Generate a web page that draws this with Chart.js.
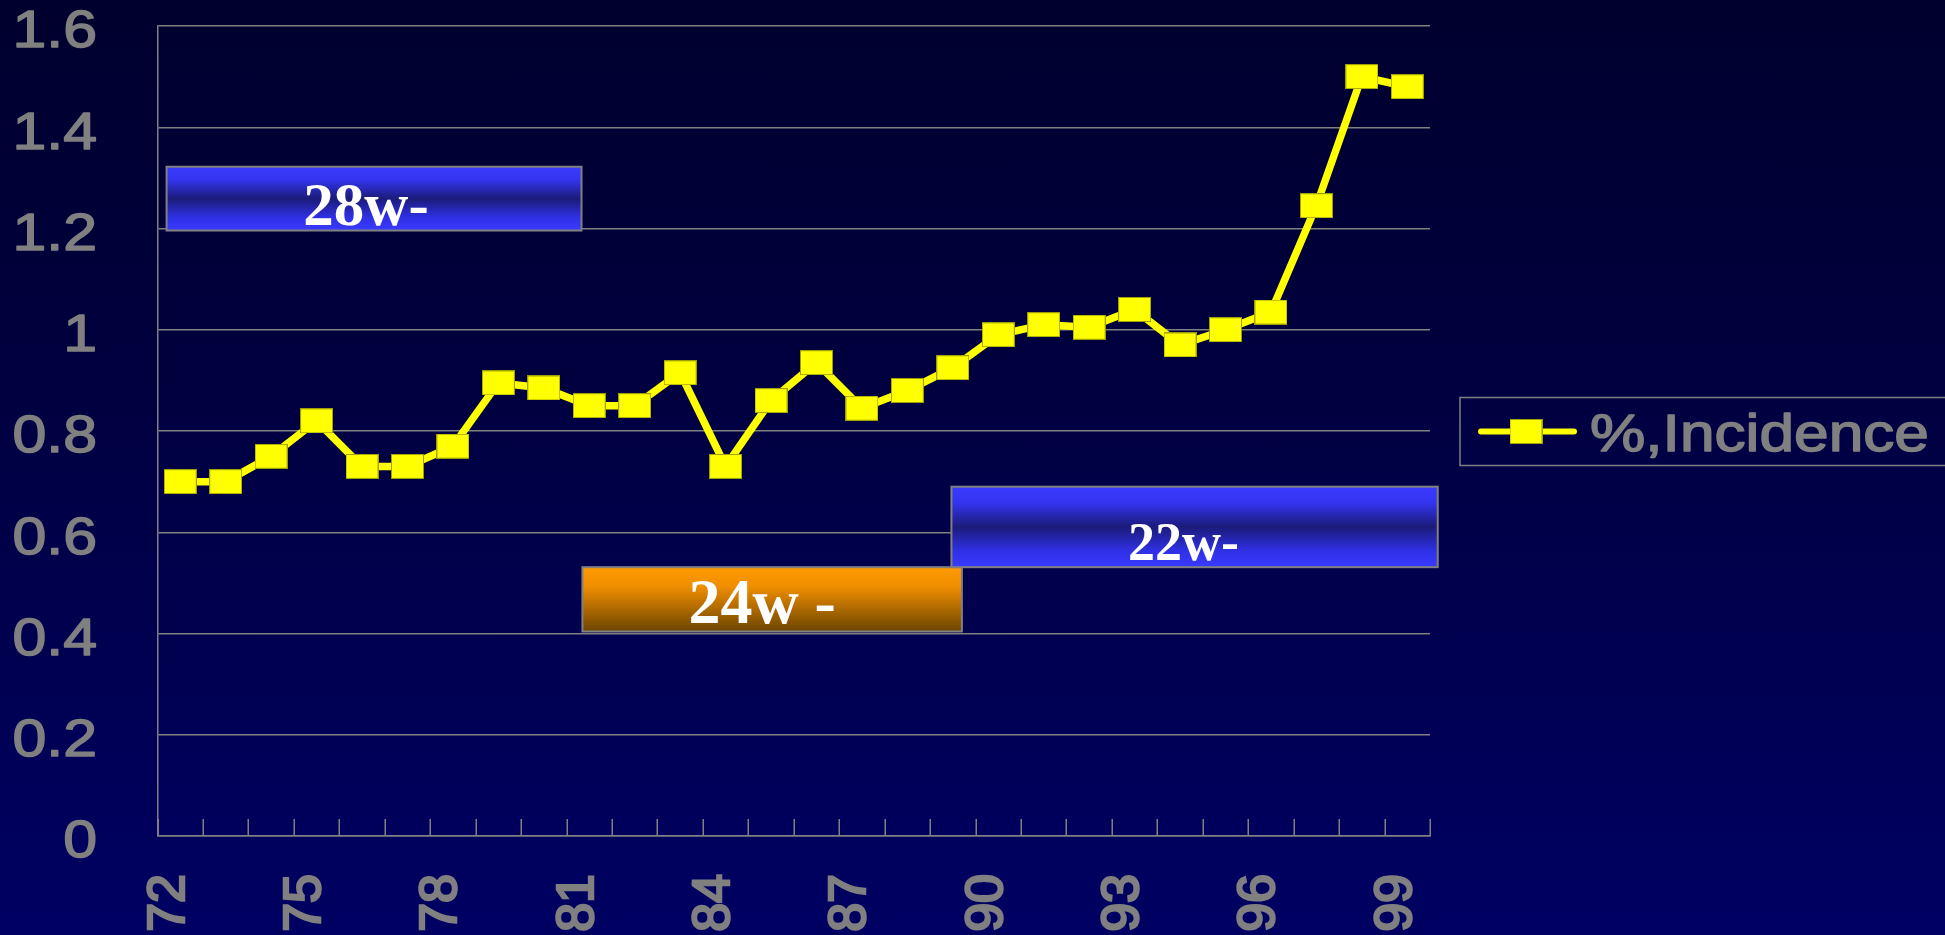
<!DOCTYPE html>
<html>
<head>
<meta charset="utf-8">
<script src="https://cdn.jsdelivr.net/npm/chart.js@4.4.1/dist/chart.umd.min.js"></script>
<style>
  html, body { margin: 0; padding: 0; overflow: hidden; }
  body { width: 1945px; height: 935px; background: linear-gradient(to bottom, #00002e 0%, #00003f 40%, #000063 100%); }
  canvas { display: block; }
</style>
</head>
<body>
<canvas id="c" width="1945" height="935"></canvas>
<script>
// ---- data ----
const years = ['72','73','74','75','76','77','78','79','80','81','82','83','84','85','86','87','88','89','90','91','92','93','94','95','96','97','98','99'];
const incidence = [0.70,0.70,0.75,0.82,0.73,0.73,0.77,0.895,0.885,0.85,0.85,0.915,0.73,0.86,0.935,0.845,0.88,0.925,0.99,1.01,1.005,1.04,0.97,1.00,1.035,1.245,1.50,1.48];
const seriesLabel = '%,Incidence';
const yMin = 0;
const yMax = 1.6;
const yStep = 0.2;
const labelEvery = 3;
// viability-limit periods (category index units / value units)
const periodLabels = ['28w-', '24w -', '22w-'];
const periodStart = [-0.3, 8.85, 16.97];
const periodEnd = [8.83, 17.2, 27.67];
const periodTop = [1.322, 0.531, 0.69];
const periodBottom = [1.196, 0.404, 0.531];

// ---- styles ----
const GRAY = '#808080';
const YELLOW = '#ffff00';
const SANS = '"Liberation Sans", Arial, sans-serif';

function makeMarker() {
  const c = document.createElement('canvas');
  c.width = 33; c.height = 25;
  const g = c.getContext('2d');
  g.fillStyle = YELLOW;
  g.fillRect(0, 0, 33, 25);
  g.strokeStyle = 'rgba(150,150,0,0.9)';
  g.lineWidth = 1;
  g.strokeRect(0.5, 0.5, 32, 24);
  return c;
}
const marker = makeMarker();

const periodStyles = [
  { kind: 'blue', font: 61, dx: -8, baseFromBottom: 6 },
  { kind: 'orange', font: 64, dx: -10, baseFromBottom: 8 },
  { kind: 'blue', font: 54, dx: -11, baseFromBottom: 7 }
];

const periodPlugin = {
  id: 'periods',
  beforeDatasetsDraw(chart) {
    const ctx = chart.ctx;
    const xs = chart.scales.x, ys = chart.scales.y;
    for (let i = 0; i < periodLabels.length; i++) {
      const x0 = xs.getPixelForValue(periodStart[i]);
      const x1 = xs.getPixelForValue(periodEnd[i]);
      const y0 = ys.getPixelForValue(periodTop[i]);
      const y1 = ys.getPixelForValue(periodBottom[i]);
      const st = periodStyles[i];
      const grad = ctx.createLinearGradient(0, y0, 0, y1);
      if (st.kind === 'blue') {
        grad.addColorStop(0, '#3a3aff');
        grad.addColorStop(0.2, '#3434f0');
        grad.addColorStop(0.5, '#1b1b7a');
        grad.addColorStop(0.8, '#3030e6');
        grad.addColorStop(1, '#3a3aff');
      } else {
        grad.addColorStop(0, '#ff9a00');
        grad.addColorStop(0.3, '#ef8e00');
        grad.addColorStop(1, '#6c4400');
      }
      ctx.save();
      ctx.fillStyle = grad;
      ctx.fillRect(x0, y0, x1 - x0, y1 - y0);
      ctx.strokeStyle = GRAY;
      ctx.lineWidth = 2;
      ctx.strokeRect(x0, y0, x1 - x0, y1 - y0);
      ctx.fillStyle = '#ffffff';
      ctx.font = 'bold ' + st.font + 'px "Liberation Serif", "Times New Roman", serif';
      ctx.textAlign = 'center';
      ctx.textBaseline = 'alphabetic';
      ctx.fillText(periodLabels[i], (x0 + x1) / 2 + st.dx, y1 - st.baseFromBottom);
      ctx.restore();
    }
  }
};

const axisDecorPlugin = {
  id: 'axisDecor',
  afterDraw(chart) {
    const ctx = chart.ctx;
    const xs = chart.scales.x, ys = chart.scales.y;
    const bottom = chart.chartArea.bottom;
    ctx.save();
    // inner tick marks on the category axis
    ctx.strokeStyle = GRAY;
    ctx.lineWidth = 1.5;
    ctx.beginPath();
    for (let i = 0; i <= years.length; i++) {
      const px = Math.round(xs.getPixelForValue(i - 0.5)) + 0.25;
      ctx.moveTo(px, bottom);
      ctx.lineTo(px, bottom - 17);
    }
    ctx.stroke();
    // value-axis tick labels (stretched like the original slide)
    ctx.fillStyle = GRAY;
    ctx.strokeStyle = GRAY;
    ctx.lineWidth = 1.4;
    ctx.lineJoin = 'round';
    ctx.font = '52px ' + SANS;
    ctx.textAlign = 'right';
    ctx.textBaseline = 'middle';
    ys.ticks.forEach(function(t) {
      const py = ys.getPixelForValue(t.value);
      const s = String(Math.round(t.value * 10) / 10);
      ctx.save();
      ctx.translate(97, py + 7);
      ctx.scale(1.17, 1);
      ctx.fillText(s, 0, 0);
      ctx.strokeText(s, 0, 0);
      ctx.restore();
    });
    ctx.restore();
  }
};

const legendPlugin = {
  id: 'boxLegend',
  afterDraw(chart) {
    const ctx = chart.ctx;
    const ds = chart.data.datasets[0];
    const cy = (chart.chartArea.top + chart.chartArea.bottom) / 2 + 0.5;
    const left = 1460;
    ctx.save();
    ctx.strokeStyle = GRAY;
    ctx.lineWidth = 1.5;
    ctx.strokeRect(left, cy - 34, 520, 68);
    ctx.strokeStyle = ds.borderColor;
    ctx.lineWidth = 6;
    ctx.lineCap = 'round';
    ctx.beginPath();
    ctx.moveTo(left + 21, cy);
    ctx.lineTo(left + 114, cy);
    ctx.stroke();
    ctx.drawImage(marker, left + 66 - 16.5, cy - 12.5);
    ctx.fillStyle = GRAY;
    ctx.strokeStyle = GRAY;
    ctx.lineWidth = 1.4;
    ctx.lineJoin = 'round';
    ctx.font = '51px ' + SANS;
    ctx.textBaseline = 'alphabetic';
    ctx.textAlign = 'left';
    ctx.translate(left + 130, cy + 19);
    ctx.scale(1.22, 1);
    ctx.fillText(ds.label, 0, 0);
    ctx.strokeText(ds.label, 0, 0);
    ctx.restore();
  }
};

new Chart(document.getElementById('c'), {
  type: 'line',
  data: {
    labels: years,
    datasets: [{
      label: seriesLabel,
      data: incidence,
      borderColor: YELLOW,
      backgroundColor: YELLOW,
      borderWidth: 7.5,
      tension: 0,
      pointStyle: marker,
      pointRadius: 12,
      pointHoverRadius: 12,
      clip: false
    }]
  },
  options: {
    responsive: false,
    animation: false,
    devicePixelRatio: 1,
    layout: { padding: { top: 26, right: 515, left: 0, bottom: 0 } },
    plugins: { legend: { display: false }, tooltip: { enabled: false } },
    scales: {
      x: {
        type: 'category',
        offset: true,
        grid: { display: false },
        border: { display: true, color: GRAY, width: 1.5 },
        ticks: {
          autoSkip: false,
          minRotation: 90,
          maxRotation: 90,
          padding: 30,
          labelOffset: -11,
          color: GRAY,
          textStrokeColor: GRAY,
          textStrokeWidth: 2.5,
          font: { family: SANS, size: 52, weight: 'normal' },
          callback: function(val, i) { return i % labelEvery === 0 ? years[i] : ''; }
        },
        afterFit(scale) { scale.height = 99; scale.paddingLeft = 0; scale.paddingRight = 0; }
      },
      y: {
        min: yMin,
        max: yMax,
        grid: { color: GRAY, lineWidth: 1.5, drawTicks: false },
        border: { display: true, color: GRAY, width: 1.5 },
        ticks: {
          display: false,
          stepSize: yStep
        },
        afterFit(scale) { scale.width = 157.5; scale.paddingTop = 0; scale.paddingBottom = 0; }
      }
    }
  },
  plugins: [periodPlugin, axisDecorPlugin, legendPlugin]
});
</script>
</body>
</html>
